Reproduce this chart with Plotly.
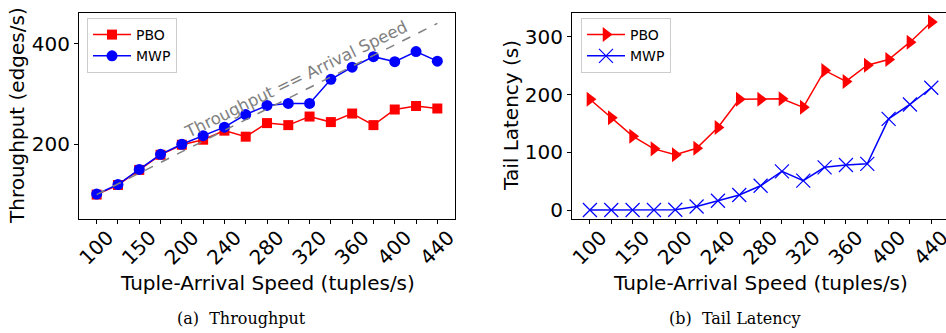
import plotly.graph_objects as go

# ---- data ----
speeds = ["100", "125", "150", "175", "200", "220", "240", "260", "280",
          "300", "320", "340", "360", "380", "400", "420", "440"]
tick_labels = ["100", "", "150", "", "200", "", "240", "", "280",
               "", "320", "", "360", "", "400", "", "440"]

throughput_pbo = [100, 119, 149, 179, 199, 209, 227, 215, 242, 238, 255, 244, 261,
                  238, 269, 276, 271]
throughput_mwp = [101, 120, 150, 180, 200, 217, 234, 259, 277, 281, 281, 329, 353,
                  374, 364, 384, 365]
ideal_x = ["100", "440"]
ideal_y = [100, 440]

latency_pbo = [192, 160, 128, 106, 96, 107, 143, 192, 192, 193, 178, 242, 223,
               251, 261, 291, 326]
latency_mwp = [0, 0, 0, 0, 0.5, 6, 16, 26, 42, 67, 51, 74, 78, 80, 158, 183, 212]

W, H = 946, 333
RED = "#ff0000"
BLUE = "#0000ff"
FONT = "DejaVu Sans"
FS = 20

fig = go.Figure()

# ---- left: throughput ----
fig.add_trace(go.Scatter(x=speeds, y=throughput_pbo, name="PBO", mode="lines+markers",
                         line=dict(color=RED, width=1.5),
                         marker=dict(symbol="square", size=10, color=RED),
                         xaxis="x", yaxis="y", legend="legend"))
fig.add_trace(go.Scatter(x=speeds, y=throughput_mwp, name="MWP", mode="lines+markers",
                         line=dict(color=BLUE, width=1.5),
                         marker=dict(symbol="circle", size=11, color=BLUE),
                         xaxis="x", yaxis="y", legend="legend"))
fig.add_trace(go.Scatter(x=ideal_x, y=ideal_y, mode="lines", showlegend=False,
                         line=dict(color="gray", width=1.5, dash="dash"),
                         xaxis="x", yaxis="y"))

# ---- right: latency ----
fig.add_trace(go.Scatter(x=speeds, y=latency_pbo, name="PBO", mode="lines+markers",
                         line=dict(color=RED, width=1.5),
                         marker=dict(symbol="triangle-right", size=13, color=RED),
                         xaxis="x2", yaxis="y2", legend="legend2"))
fig.add_trace(go.Scatter(x=speeds, y=latency_mwp, name="MWP", mode="lines+markers",
                         line=dict(color=BLUE, width=1.5),
                         marker=dict(symbol="x-thin", size=14, color=BLUE,
                                     line=dict(color=BLUE, width=1.2)),
                         xaxis="x2", yaxis="y2", legend="legend2"))

ydom = [1 - 219 / H, 1 - 13 / H]
axis_common = dict(showline=True, linecolor="black", linewidth=1, showgrid=False,
                   zeroline=False, ticks="outside", ticklen=4, tickcolor="black",
                   automargin=False,
                   tickfont=dict(family=FONT, size=FS, color="black"))


def txt(text, x, y, size=FS, angle=0, family=FONT, color="black"):
    return dict(text=text, x=x / W, y=1 - y / H, xref="paper", yref="paper",
                xanchor="center", yanchor="middle", showarrow=False, textangle=angle,
                font=dict(family=family, size=size, color=color))


fig.update_layout(
    width=W, height=H,
    margin=dict(l=0, r=0, t=0, b=0),
    paper_bgcolor="white", plot_bgcolor="white",
    font=dict(family=FONT, color="black"),
    xaxis=dict(domain=[79 / W, 455 / W], type="category", range=[-0.83, 16.83],
               tickvals=speeds, ticktext=tick_labels, tickangle=-45, mirror=True,
               ticklabelshift=11, ticklabelstandoff=-6, anchor="y", **axis_common),
    yaxis=dict(domain=ydom, range=[51.5, 460.7], tickvals=[200, 400], mirror=True,
               anchor="x", **axis_common),
    xaxis2=dict(domain=[572 / W, 1.0], type="category", range=[-0.84, 16.69],
                tickvals=speeds, ticktext=tick_labels, tickangle=-45, mirror=True,
                ticklabelshift=11, ticklabelstandoff=-6, anchor="y2", **axis_common),
    yaxis2=dict(domain=ydom, range=[-15.6, 341.6], tickvals=[0, 100, 200, 300],
                mirror=False, anchor="x2", **axis_common),
    legend=dict(x=87 / W, y=1 - 18 / H, xanchor="left", yanchor="top",
                bgcolor="rgba(255,255,255,0.8)", bordercolor="#cccccc", borderwidth=1,
                itemwidth=38, font=dict(family=FONT, size=14)),
    legend2=dict(x=581 / W, y=1 - 18 / H, xanchor="left", yanchor="top",
                 bgcolor="rgba(255,255,255,0.8)", bordercolor="#cccccc", borderwidth=1,
                 itemwidth=38, font=dict(family=FONT, size=14)),
    annotations=[
        txt("Throughput == Arrival Speed", 296, 79, size=16.5, angle=-26, color="gray"),
        txt("Tuple-Arrival Speed (tuples/s)", 267, 283),
        txt("Tuple-Arrival Speed (tuples/s)", 760, 283),
        txt("Throughput (edges/s)", 17, 116, angle=-90),
        txt("Tail Latency (s)", 511, 116, angle=-90),
        txt("(a)  Throughput", 241, 318, size=16, family="DejaVu Serif"),
        txt("(b)  Tail Latency", 735, 318, size=16, family="DejaVu Serif"),
    ],
)

fig.write_html("out.html", config={"displayModeBar": False},
               post_script="document.body.style.margin='0';")
